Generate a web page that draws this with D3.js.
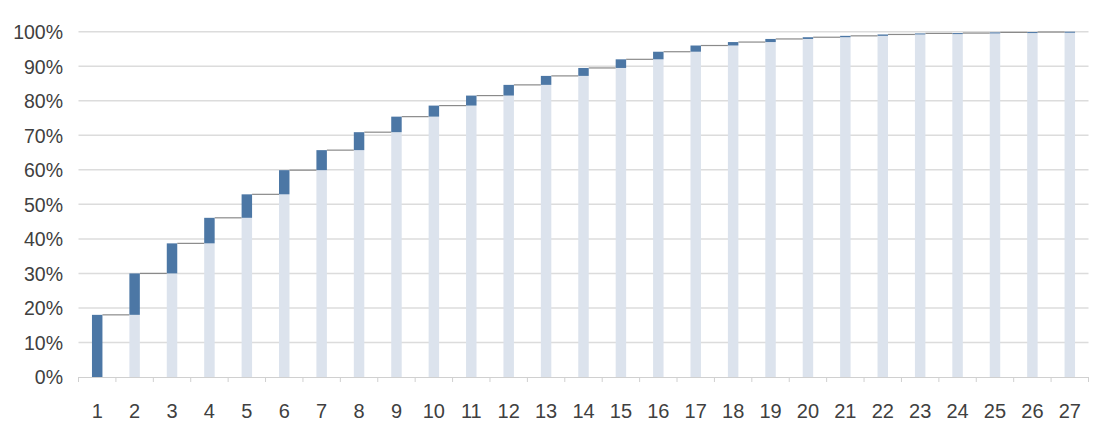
<!DOCTYPE html>
<html>
<head>
<meta charset="utf-8">
<script src="https://cdn.jsdelivr.net/npm/d3@7"></script>
<style>
  html, body { margin: 0; padding: 0; background: #fff; }
  svg text { font-family: "Liberation Sans", Arial, sans-serif; fill: #404040; }
</style>
</head>
<body>
<svg id="chart" width="1096" height="425"></svg>
<script>
const categories = ["1","2","3","4","5","6","7","8","9","10","11","12","13","14","15","16","17","18","19","20","21","22","23","24","25","26","27"];
const cumulative = [18, 30, 38.7, 46.1, 52.9, 59.9, 65.7, 70.9, 75.4, 78.6, 81.5, 84.6, 87.2, 89.5, 92, 94.2, 96, 97.0, 97.9, 98.4, 98.8, 99.2, 99.5, 99.6, 99.8, 99.9, 100];
const yTicks = [0, 10, 20, 30, 40, 50, 60, 70, 80, 90, 100];

const svg = d3.select("#chart");
const pLeft = 78.5, pRight = 1088.5, pTop = 31.7, pBottom = 377;

const x = d3.scaleBand().domain(categories).range([pLeft, pRight]).paddingInner(0.72).paddingOuter(0.36);
const y = d3.scaleLinear().domain([0, 100]).range([pBottom, pTop]);

// gridlines
svg.append("g").selectAll("line").data(yTicks.filter(d => d > 0)).join("line")
  .attr("x1", pLeft).attr("x2", pRight)
  .attr("y1", d => y(d)).attr("y2", d => y(d))
  .attr("stroke", "#dcdcdc").attr("stroke-width", 1.5);

// y axis labels
const yAxis = d3.axisLeft(y).tickValues(yTicks).tickFormat(d => d + "%").tickSize(0).tickPadding(0);
const gy = svg.append("g").attr("transform", `translate(63,0)`).call(yAxis);
gy.select(".domain").remove();
gy.selectAll("text").attr("font-size", 19.5).attr("dy", "0.35em")
  .style("font-family", "'Liberation Sans', Arial, sans-serif").style("fill", "#404040");

const data = categories.map((c, i) => ({
  c, base: i === 0 ? 0 : cumulative[i - 1], end: cumulative[i]
}));

// light base bars
svg.append("g").selectAll("rect").data(data.filter(d => d.base > 0)).join("rect")
  .attr("x", d => x(d.c)).attr("width", x.bandwidth())
  .attr("y", d => y(d.base)).attr("height", d => y(0) - y(d.base))
  .attr("fill", "#dce3ed");

// dark increment bars
svg.append("g").selectAll("rect").data(data).join("rect")
  .attr("x", d => x(d.c)).attr("width", x.bandwidth())
  .attr("y", d => y(d.end)).attr("height", d => Math.max(1, y(d.base) - y(d.end)))
  .attr("fill", "#4c77a5");

// connector lines
svg.append("g").selectAll("line").data(data.slice(0, -1)).join("line")
  .attr("x1", d => x(d.c) + x.bandwidth())
  .attr("x2", (d, i) => x(categories[i + 1]))
  .attr("y1", d => y(d.end)).attr("y2", d => y(d.end))
  .attr("stroke", "#8a8a8a").attr("stroke-width", 1.2);

// x axis
const xAxis = d3.axisBottom(x).tickSize(0).tickPadding(0);
const gx = svg.append("g").attr("transform", `translate(0,${pBottom})`).call(xAxis);
gx.select(".domain").attr("stroke", "#d0d0d0").attr("stroke-width", 1.2);
gx.selectAll("text").attr("font-size", 20).attr("y", 41).attr("dy", "0")
  .style("font-family", "'Liberation Sans', Arial, sans-serif").style("fill", "#404040");

// tick marks at category boundaries
const step = x.step();
const firstEdge = x(categories[0]) + x.bandwidth() / 2 - step / 2;
const bounds = d3.range(categories.length + 1).map(i => firstEdge + i * step);
svg.append("g").selectAll("line").data(bounds).join("line")
  .attr("x1", d => d).attr("x2", d => d)
  .attr("y1", pBottom).attr("y2", pBottom + 5)
  .attr("stroke", "#d0d0d0").attr("stroke-width", 1);
</script>
</body>
</html>
